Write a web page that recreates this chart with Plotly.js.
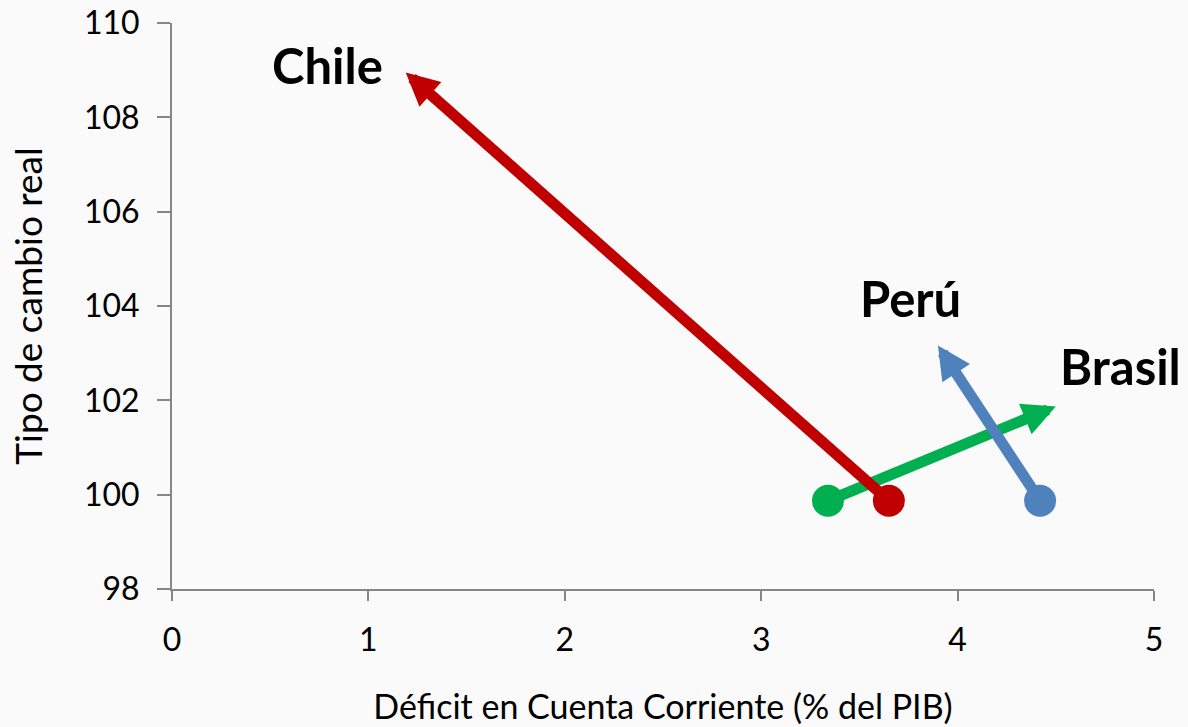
<!DOCTYPE html>
<html>
<head>
<meta charset="utf-8">
<script src="https://cdn.plot.ly/plotly-3.0.1.min.js"></script>
<style>html,body{margin:0;padding:0;background:#fafafa;}</style>
</head>
<body>
<div id="chart" style="width:1188px;height:727px;"></div>
<script>
// Data
const countries = ["Brasil", "Perú", "Chile"];
const deficitStart = [3.34, 4.42, 3.65];
const tcrStart = [99.87, 99.87, 99.87];
const deficitEnd = [4.50, 3.90, 1.19];
const tcrEnd = [101.87, 103.16, 108.95];
const labelX = [4.83, 3.76, 0.79];
const labelY = [102.73, 104.17, 109.11];
const xTicks = [0, 1, 2, 3, 4, 5];
const yTicks = [98, 100, 102, 104, 106, 108, 110];

// Styles
const colorOf = {"Brasil": "#00B050", "Perú": "#4F81BD", "Chile": "#C00000"};
const FONT = "Lato, 'Open Sans', sans-serif";

const traces = countries.map((c, i) => ({
  type: "scatter", mode: "markers",
  x: [deficitStart[i]], y: [tcrStart[i]],
  marker: {size: 32, color: colorOf[c]},
  name: c, hoverinfo: "skip"
}));

const annotations = [];
countries.forEach((c, i) => {
  annotations.push({
    x: deficitEnd[i], y: tcrEnd[i], xref: "x", yref: "y",
    ax: deficitStart[i], ay: tcrStart[i], axref: "x", ayref: "y",
    text: "", showarrow: true, arrowhead: 2, arrowsize: 0.6,
    arrowwidth: 11, arrowcolor: colorOf[c], standoff: 0, startstandoff: 0
  });
});
countries.forEach((c, i) => {
  annotations.push({
    x: labelX[i], y: labelY[i], xref: "x", yref: "y",
    text: "<b>" + c + "</b>", showarrow: false,
    font: {family: FONT, size: 49, color: "#000"},
    xanchor: "center", yanchor: "middle"
  });
});

const axisCommon = {
  showgrid: false, zeroline: false, showline: true,
  linecolor: "#868686", linewidth: 2,
  ticks: "outside", tickcolor: "#868686", tickwidth: 2,
  tickfont: {family: FONT, size: 32, color: "#000"}
};

const layout = {
  width: 1188, height: 727,
  margin: {l: 172, r: 34, t: 23, b: 138},
  paper_bgcolor: "#fafafa", plot_bgcolor: "#fafafa",
  showlegend: false,
  xaxis: Object.assign({}, axisCommon, {
    range: [0, 5], tickvals: xTicks, ticktext: xTicks.map(String),
    ticklen: 10, ticklabelstandoff: 12,
    title: {text: "Déficit en Cuenta Corriente (% del PIB)",
            font: {family: FONT, size: 34, color: "#000"}, standoff: 38}
  }),
  yaxis: Object.assign({}, axisCommon, {
    range: [98, 110], tickvals: yTicks, ticktext: yTicks.map(String),
    ticklen: 13, ticklabelstandoff: 11,
    title: {text: "Tipo de cambio real",
            font: {family: FONT, size: 37, color: "#000"}, standoff: 30}
  }),
  annotations: annotations
};

Plotly.newPlot("chart", traces, layout, {displayModeBar: false, staticPlot: true});
</script>
</body>
</html>
